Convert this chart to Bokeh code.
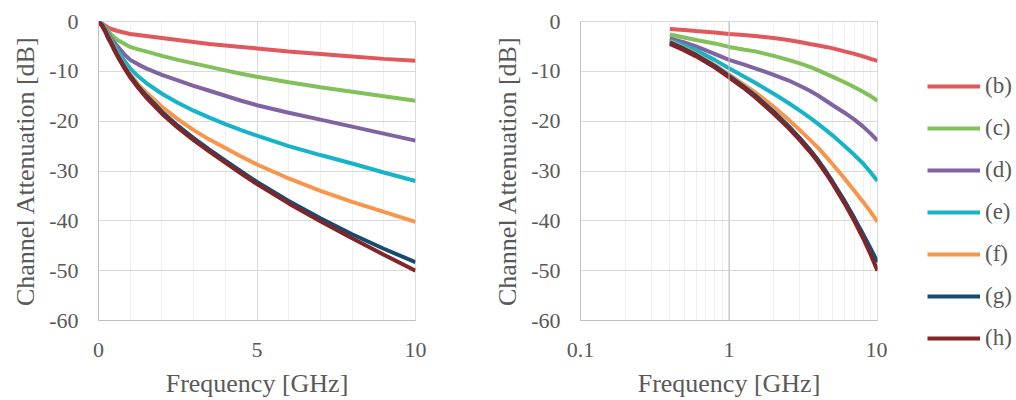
from bokeh.plotting import figure
from bokeh.layouts import row, column
from bokeh.models import (Legend, LegendItem, FixedTicker, CustomJSTickFormatter,
                          Span, Range1d)
from bokeh.embed import file_html
from bokeh.resources import INLINE

# ---------------- data ----------------
freq = [0, 0.1, 0.2, 0.3, 0.4, 0.5, 0.6, 0.8, 1, 1.25, 1.5, 2, 2.5, 3, 3.5, 4, 4.5, 5, 6, 7, 8, 9, 10]
att_b = [0, -0.4, -0.8, -1.2, -1.5, -1.7, -1.9, -2.2, -2.5, -2.7, -2.9, -3.3, -3.7, -4.1, -4.5, -4.8, -5.1, -5.4, -6.0, -6.5, -7.0, -7.5, -7.9]
att_c = [0, -0.4, -1.1, -1.9, -2.6, -3.2, -3.7, -4.4, -5.1, -5.6, -6.0, -6.9, -7.7, -8.4, -9.1, -9.8, -10.5, -11.1, -12.2, -13.2, -14.1, -15.0, -15.9]
att_d = [0, -0.5, -1.3, -2.3, -3.4, -4.2, -5.0, -6.5, -7.7, -8.6, -9.4, -10.7, -11.8, -12.9, -13.9, -14.9, -15.9, -16.8, -18.3, -19.7, -21.1, -22.5, -23.9]
att_e = [0, -0.5, -1.4, -2.5, -3.8, -4.8, -5.8, -7.7, -9.4, -11.0, -12.3, -14.5, -16.3, -17.9, -19.3, -20.6, -21.8, -22.9, -25.0, -26.8, -28.5, -30.3, -32.0]
att_f = [0, -0.6, -1.5, -2.8, -4.0, -5.3, -6.5, -8.7, -10.6, -12.6, -14.2, -17.1, -19.6, -21.8, -23.7, -25.4, -27.1, -28.7, -31.5, -34.0, -36.2, -38.2, -40.2]
att_g = [0, -0.6, -1.6, -3.0, -4.2, -5.5, -6.7, -8.9, -10.9, -13.0, -14.8, -18.1, -20.9, -23.4, -25.7, -27.9, -30.1, -32.2, -36.0, -39.5, -42.7, -45.6, -48.3]
att_h = [0, -0.8, -1.9, -3.3, -4.5, -5.8, -7.0, -9.2, -11.2, -13.3, -15.2, -18.5, -21.3, -23.8, -26.1, -28.3, -30.5, -32.6, -36.5, -40.1, -43.5, -46.8, -50.0]
series = [att_b, att_c, att_d, att_e, att_f, att_g, att_h]
labels = ["(b)", "(c)", "(d)", "(e)", "(f)", "(g)", "(h)"]
colors = ["#E0585B", "#82C05A", "#8064A2", "#17B4C9", "#F7964A", "#154D72", "#822428"]

log_start = 0.4  # first frequency shown on the log panel

y_ticks = [-60, -50, -40, -30, -20, -10, 0]
lin_ticks = [0, 5, 10]
lin_minor = [1, 2, 3, 4, 6, 7, 8, 9]
log_ticks = [0.1, 1, 10]
log_minor = [0.2, 0.3, 0.4, 0.5, 0.6, 0.7, 0.8, 0.9, 2, 3, 4, 5, 6, 7, 8, 9]

FONT = "Liberation Serif"
TXT = "#595959"
GRID = "#D9D9D9"
H = 400
LW = 4


def style(p, xticks, xminor):
    p.background_fill_color = "white"
    p.border_fill_color = "white"
    p.outline_line_color = GRID
    p.xaxis.ticker = FixedTicker(ticks=xticks, minor_ticks=xminor)
    p.yaxis.ticker = FixedTicker(ticks=y_ticks)
    p.xaxis.formatter = CustomJSTickFormatter(code="return tick.toString()")
    p.yaxis.formatter = CustomJSTickFormatter(code="return tick.toString()")
    for ax in (p.xaxis[0], p.yaxis[0]):
        ax.major_tick_line_color = None
        ax.minor_tick_line_color = None
        ax.axis_line_color = "#BFBFBF"
        ax.major_label_text_font = FONT
        ax.major_label_text_font_size = "22px"
        ax.major_label_text_color = TXT
        ax.axis_label_text_font = FONT
        ax.axis_label_text_font_size = "26px"
        ax.axis_label_text_font_style = "normal"
        ax.axis_label_text_color = TXT
    p.yaxis.major_label_standoff = 14
    p.yaxis.axis_label_standoff = 6
    p.xaxis.major_label_standoff = 16
    p.xaxis.axis_label_standoff = 9
    p.xaxis.axis_label = "Frequency [GHz]"
    p.yaxis.axis_label = "Channel Attenuation [dB]"
    p.xgrid.grid_line_color = GRID
    p.xgrid.minor_grid_line_color = "#F0F0F0"
    p.ygrid.grid_line_color = GRID


# left: linear frequency
p1 = figure(width=478, height=H, x_range=Range1d(0, 10), y_range=Range1d(-60, 0),
            output_backend="svg", toolbar_location=None,
            min_border_left=98, min_border_right=63, min_border_top=21, min_border_bottom=80)
style(p1, lin_ticks, lin_minor)
for s, c in zip(series, colors):
    p1.line(freq, s, line_color=c, line_width=LW)

# right: log frequency
p2 = figure(width=409, height=H, x_axis_type="log", x_range=Range1d(0.1, 10),
            y_range=Range1d(-60, 0), output_backend="svg", toolbar_location=None,
            min_border_left=102, min_border_right=10, min_border_top=21, min_border_bottom=80)
style(p2, log_ticks, log_minor)
p2.add_layout(Span(location=1, dimension="height", line_color="#BFBFBF", line_width=1))
idx = freq.index(log_start)
for s, c in zip(series, colors):
    p2.line(freq[idx:], s[idx:], line_color=c, line_width=LW)

# legend panel (its lines lie outside the view range; only the legend shows)
p3 = figure(width=129, height=H, x_range=Range1d(100, 101), y_range=Range1d(-60, 0),
            output_backend="svg", toolbar_location=None,
            x_axis_location=None, y_axis_location=None,
            min_border_left=0, min_border_right=0, min_border_top=0, min_border_bottom=0)
p3.outline_line_color = None
p3.grid.visible = False
p3.background_fill_color = "white"
p3.border_fill_color = "white"
items = []
for s, c, lab in zip(series, colors, labels):
    r = p3.line(freq, s, line_color=c, line_width=LW)
    items.append(LegendItem(label=lab, renderers=[r]))

legend = Legend(items=items, location=(40, 49),
                label_text_font=FONT, label_text_font_size="23px", label_text_color=TXT,
                glyph_width=53, glyph_height=24, label_height=24, spacing=16,
                padding=0, margin=0, label_standoff=5,
                border_line_color=None, background_fill_alpha=0)
p3.add_layout(legend)

layout = row(p1, p2, column(p3))
open("out.html", "w").write(file_html(layout, INLINE))
